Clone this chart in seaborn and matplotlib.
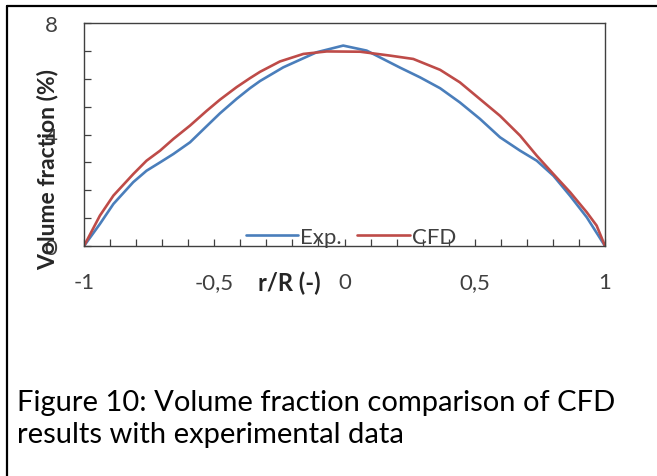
import matplotlib
matplotlib.use("Agg")
import matplotlib.pyplot as plt
from matplotlib.lines import Line2D
from matplotlib.ticker import MultipleLocator, FixedLocator
import seaborn as sns
import pandas as pd

# ---- data ----
exp_x = [-1, -0.939, -0.887, -0.811, -0.760, -0.708, -0.657, -0.593, -0.529, -0.478,
         -0.414, -0.363, -0.324, -0.235, -0.107, -0.005, 0.085, 0.213, 0.290, 0.367,
         0.443, 0.520, 0.597, 0.674, 0.738, 0.802, 0.866, 0.930, 1.0]
exp_y = [0, 0.79, 1.51, 2.29, 2.70, 3.00, 3.30, 3.72, 4.30, 4.76,
         5.28, 5.66, 5.92, 6.41, 6.95, 7.19, 7.01, 6.40, 6.05, 5.66,
         5.15, 4.56, 3.90, 3.42, 3.06, 2.52, 1.80, 1.03, 0]
cfd_x = [-1, -0.939, -0.887, -0.811, -0.760, -0.708, -0.657, -0.593, -0.529, -0.478,
         -0.414, -0.363, -0.324, -0.248, -0.158, -0.068, 0.060, 0.175, 0.264, 0.367,
         0.443, 0.520, 0.597, 0.674, 0.738, 0.802, 0.866, 0.930, 0.968, 1.0]
cfd_y = [0, 1.09, 1.81, 2.58, 3.06, 3.42, 3.84, 4.32, 4.85, 5.25,
         5.70, 6.02, 6.25, 6.62, 6.89, 6.98, 6.97, 6.83, 6.71, 6.32,
         5.87, 5.27, 4.67, 3.96, 3.24, 2.58, 1.93, 1.21, 0.73, 0]
series_names = ["Exp.", "CFD"]
x_ticks = [-1, -0.5, 0, 0.5, 1]
x_tick_labels = ["-1", "-0,5", "0", "0,5", "1"]
y_ticks = [0, 4, 8]
y_tick_labels = ["0", "4", "8"]
x_label = "r/R (-)"
y_label = "Volume fraction (%)"
caption_lines = ["Figure 10: Volume fraction comparison of CFD",
                 "results with experimental data"]

df = pd.concat([
    pd.DataFrame({"r": exp_x, "v": exp_y, "series": series_names[0]}),
    pd.DataFrame({"r": cfd_x, "v": cfd_y, "series": series_names[1]}),
])

sns.set_theme(style="ticks")
plt.rcParams["font.family"] = ["Lato", "DejaVu Sans"]

W, H = 657, 477
fig = plt.figure(figsize=(W / 100, H / 100), dpi=100)
fig.patch.set_facecolor("white")

def fx(px):
    return px / W

def fy(py):
    return 1 - py / H

ax = fig.add_axes([fx(84), fy(247), fx(605) - fx(84), fy(24) - fy(247)])
ax.set_facecolor("white")

palette = {"Exp.": "#4A7EBB", "CFD": "#BE4B48"}
sns.lineplot(data=df, x="r", y="v", hue="series", palette=palette,
             estimator=None, linewidth=1.9, ax=ax)
for ln in ax.get_lines():
    ln.set_solid_joinstyle("round")
    ln.set_solid_capstyle("round")

ax.set_xlim(-1, 1)
ax.set_ylim(0, 8)
ax.xaxis.set_major_locator(FixedLocator(x_ticks))
ax.set_xticklabels(x_tick_labels)
ax.xaxis.set_minor_locator(MultipleLocator(0.1))
ax.yaxis.set_major_locator(FixedLocator(y_ticks))
ax.set_yticklabels(y_tick_labels)
ax.yaxis.set_minor_locator(MultipleLocator(1))
ax.tick_params(axis="both", which="both", direction="in", length=5,
               width=0.9, color="#404040", labelcolor="#404040",
               labelsize=16)
ax.tick_params(axis="x", which="major", pad=19)
ax.tick_params(axis="y", which="major", pad=19)
ax.set_xlabel("")
ax.set_ylabel("")
for s in ax.spines.values():
    s.set_color("#404040")
    s.set_linewidth(1.0)
    s.set_visible(True)

ax.text((289 - 84) / 521, (247 - 283) / 223, x_label, transform=ax.transAxes,
        ha="center", va="center", fontsize=17, fontweight="bold", color="#262626")
fig.text(fx(48), fy(169), y_label, rotation=90, ha="center", va="center",
         fontsize=16.5, fontweight="bold", color="#262626")

leg = ax.legend(loc="center", bbox_to_anchor=((351 - 84) / 521, (247 - 238) / 223),
                ncol=2, frameon=False, fontsize=16, handlelength=2.36,
                handletextpad=0.1, columnspacing=0.68, borderpad=0,
                borderaxespad=0)
for t in leg.get_texts():
    t.set_color("#404040")

fig.text(fx(17), fy(411), caption_lines[0], ha="left", va="baseline",
         fontsize=21, color="black")
fig.text(fx(17), fy(443), caption_lines[1], ha="left", va="baseline",
         fontsize=21, color="black")

fig.add_artist(Line2D([fx(7), fx(657)], [fy(7), fy(7)], color="black", linewidth=1.6))
fig.add_artist(Line2D([fx(7), fx(7)], [fy(7), fy(477)], color="black", linewidth=1.6))

fig.savefig("out.png", dpi=100)
